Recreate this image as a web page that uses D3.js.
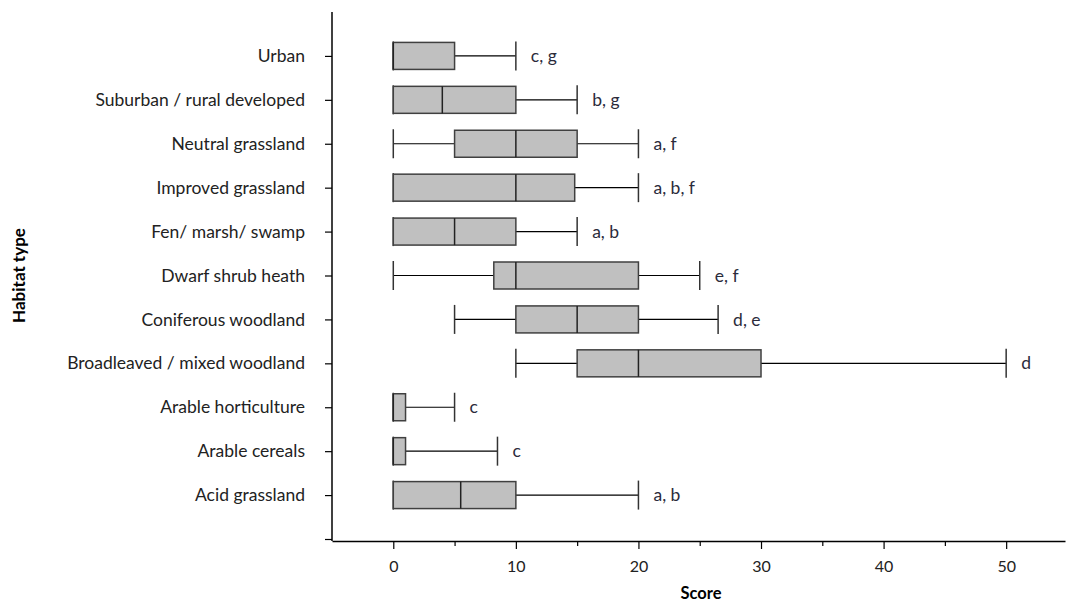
<!DOCTYPE html>
<html>
<head>
<meta charset="utf-8">
<script src="https://cdn.jsdelivr.net/npm/d3@7"></script>
<style>
  body { margin: 0; background: #fff; }
  text { font-family: "Lato", "Open Sans", sans-serif; }
</style>
</head>
<body>
<div id="chart"></div>
<script>
// Habitat categories, top to bottom
const categories = [
  "Urban",
  "Suburban / rural developed ",
  "Neutral grassland",
  "Improved grassland",
  "Fen/ marsh/ swamp",
  "Dwarf shrub heath",
  "Coniferous woodland",
  "Broadleaved / mixed woodland",
  "Arable horticulture",
  "Arable cereals",
  "Acid grassland"
];
const minValues    = [0, 0, 0, 0, 0, 0, 5, 10, 0, 0, 0];
const q1Values     = [0, 0, 5, 0, 0, 8.2, 10, 15, 0, 0, 0];
const medianValues = [0, 4, 10, 10, 5, 10, 15, 20, 0, 0, 5.5];
const q3Values     = [5, 10, 15, 14.8, 10, 20, 20, 30, 1, 1, 10];
const maxValues    = [10, 15, 20, 20, 15, 25, 26.5, 50, 5, 8.5, 20];
const groupLabels  = ["c, g", "b, g", "a, f", "a, b, f", "a, b", "e, f", "d, e", "d", "c", "c", "a, b"];
const xTicks = [0, 10, 20, 30, 40, 50];

const width = 1067, height = 604;
const axisY = 541;
const axisX = 332;

const svg = d3.select("#chart").append("svg")
  .attr("width", width)
  .attr("height", height);

const x = d3.scaleLinear().domain([-5, 54.8]).range([axisX, width - 2]);
const y = d3.scaleLinear().domain([0, 12]).range([539, 12]);

// category i sits at position (11 - i)
const data = categories.map((c, i) => ({
  name: c, min: minValues[i], q1: q1Values[i], median: medianValues[i],
  q3: q3Values[i], max: maxValues[i], label: groupLabels[i], p: categories.length - i
}));

const boxH = 27;
const fs = "17.5px";

// x axis
const xAxis = svg.append("g")
  .attr("transform", `translate(0, ${axisY})`)
  .call(d3.axisBottom(x).tickValues(d3.range(-5, 55, 5)).tickSize(8).tickSizeOuter(0)
    .tickFormat(d => xTicks.includes(d) ? d : ""));
xAxis.select(".domain").attr("stroke", "#000").attr("stroke-width", 1.5);
xAxis.selectAll(".tick line")
  .attr("stroke", "#000").attr("stroke-width", 1.2)
  .attr("y2", d => xTicks.includes(d) ? 8 : 5);
xAxis.selectAll(".tick").filter(d => d === -5).select("line").remove();
xAxis.selectAll(".tick text")
  .attr("y", 20).style("font-size", "16px").attr("fill", "#222");

// y axis
const yAxis = svg.append("g")
  .attr("transform", `translate(${axisX}, 0)`)
  .call(d3.axisLeft(y).tickValues(d3.range(0, 12)).tickSize(7).tickSizeOuter(0)
    .tickFormat(d => d === 0 ? "" : categories[categories.length - d]));
yAxis.select(".domain").attr("d", `M0,${axisY}V${y(12)}`)
  .attr("stroke", "#000").attr("stroke-width", 1.5);
yAxis.selectAll(".tick line").attr("stroke", "#000").attr("stroke-width", 1.2);
yAxis.selectAll(".tick text")
  .attr("x", -27).style("font-size", fs).attr("fill", "#222");

// axis titles
svg.append("text")
  .attr("x", 701).attr("y", 599)
  .attr("text-anchor", "middle")
  .style("font-size", "16.5px").style("font-weight", "bold")
  .text("Score");
svg.append("text")
  .attr("transform", `translate(25, ${y(6)}) rotate(-90)`)
  .attr("text-anchor", "middle")
  .style("font-size", "17px").style("font-weight", "bold")
  .text("Habitat type");

const g = svg.append("g").selectAll("g").data(data).join("g");

// whiskers
g.append("line")
  .attr("x1", d => x(d.min)).attr("x2", d => x(d.max))
  .attr("y1", d => y(d.p)).attr("y2", d => y(d.p))
  .attr("stroke", "#000").attr("stroke-width", 1.2);
g.append("line")
  .attr("x1", d => x(d.min)).attr("x2", d => x(d.min))
  .attr("y1", d => y(d.p) - boxH / 2 - 1).attr("y2", d => y(d.p) + boxH / 2 + 1)
  .attr("stroke", "#333").attr("stroke-width", 1.5);
g.append("line")
  .attr("x1", d => x(d.max)).attr("x2", d => x(d.max))
  .attr("y1", d => y(d.p) - boxH / 2 - 1).attr("y2", d => y(d.p) + boxH / 2 + 1)
  .attr("stroke", "#333").attr("stroke-width", 1.5);

// boxes
g.append("rect")
  .attr("x", d => x(d.q1)).attr("width", d => x(d.q3) - x(d.q1))
  .attr("y", d => y(d.p) - boxH / 2).attr("height", boxH)
  .attr("fill", "#c0c0c0").attr("stroke", "#404040").attr("stroke-width", 1.5);
g.append("line")
  .attr("x1", d => x(d.median)).attr("x2", d => x(d.median))
  .attr("y1", d => y(d.p) - boxH / 2).attr("y2", d => y(d.p) + boxH / 2)
  .attr("stroke", "#222").attr("stroke-width", 1.5);

// significance letters
g.append("text")
  .attr("x", d => x(d.max) + 15).attr("y", d => y(d.p)).attr("dy", "0.35em")
  .style("font-size", fs).attr("fill", "#2b2b3b")
  .text(d => d.label);
</script>
</body>
</html>
